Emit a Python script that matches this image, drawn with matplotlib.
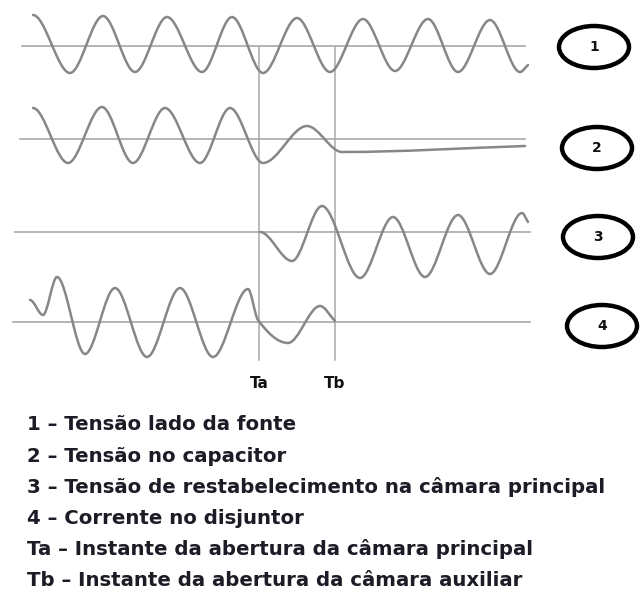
import matplotlib
matplotlib.use("Agg")
import matplotlib.pyplot as plt
from matplotlib.path import Path
from matplotlib.patches import PathPatch, Ellipse

# ---------------- data (time in ms-like units, amplitude in arbitrary units) -------------
# 1 - source-side voltage
t1 = [33, 70, 103, 135, 167, 202, 232, 263, 297, 330, 363, 395, 428, 458, 490, 520, 528]
v1 = [31, -27, 30, -26, 29, -26, 29, -27, 28, -26, 27, -25, 27, -26, 26, -26, -19]
# 2 - capacitor voltage
t2 = [33, 68, 102, 133, 165, 200, 230, 263, 307, 342, 525]
v2 = [31, -24, 32, -24, 31, -24, 31, -24, 13, -13, -7]
# 3 - recovery voltage across main chamber
t3 = [260, 292, 322, 360, 393, 425, 458, 490, 522, 528]
v3 = [0, -29, 26, -46, 15, -45, 17, -42, 19, 10]
# 4 - breaker current
t4 = [30, 43, 57, 85, 115, 147, 180, 213, 248, 258, 288, 320, 335]
i4 = [22, 7, 45, -32, 34, -35, 34, -35, 33, 2, -21, 16, 1]

series_t = [t1, t2, t3, t4]
series_v = [v1, v2, v3, i4]
series_ids = ["1", "2", "3", "4"]

event_times = [259, 335]
event_labels = ["Ta", "Tb"]

legend_lines = [
    "1 \u2013 Tensão lado da fonte",
    "2 \u2013 Tensão no capacitor",
    "3 \u2013 Tensão de restabelecimento na câmara principal",
    "4 \u2013 Corrente no disjuntor",
    "Ta \u2013 Instante da abertura da câmara principal",
    "Tb \u2013 Instante da abertura da câmara auxiliar",
]

# ---------------- layout / style -------------
W, H = 643, 592
baselines = [46, 139, 232, 322]
axis_spans = [(22, 525), (20, 525), (15, 530), (13, 530)]
circle_centers = [(594, 47), (597, 148), (598, 237), (602, 326)]
wave_color = "#878787"
axis_color = "#a8a8a8"
text_color = "#1c1c26"


def smooth_path(t, v):
    n = len(t)
    slopes = []
    for i in range(n):
        if i == 0:
            m = 0.0
        elif i == n - 1:
            m = (v[i] - v[i - 1]) / (t[i] - t[i - 1])
        else:
            if (v[i] - v[i - 1]) * (v[i + 1] - v[i]) <= 0:
                m = 0.0
            else:
                m = (v[i + 1] - v[i - 1]) / (t[i + 1] - t[i - 1])
        slopes.append(m)
    verts = [(t[0], v[0])]
    codes = [Path.MOVETO]
    for i in range(n - 1):
        dx = (t[i + 1] - t[i]) / 3.0
        verts += [(t[i] + dx, v[i] + slopes[i] * dx),
                  (t[i + 1] - dx, v[i + 1] - slopes[i + 1] * dx),
                  (t[i + 1], v[i + 1])]
        codes += [Path.CURVE4] * 3
    return Path(verts, codes)


fig = plt.figure(figsize=(W / 100, H / 100), dpi=100)
fig.patch.set_facecolor("white")

# overlay axes in pixel coordinates
ov = fig.add_axes([0, 0, 1, 1])
ov.set_xlim(0, W)
ov.set_ylim(H, 0)
ov.axis("off")

# event lines
for tx in event_times:
    ov.plot([tx, tx], [47, 360], color=axis_color, lw=1.1, zorder=1)

# waveforms
half = 60
for k in range(4):
    b = baselines[k]
    ax = fig.add_axes([0, (H - (b + half)) / H, 1, 2 * half / H])
    ax.set_xlim(0, W)
    ax.set_ylim(-half, half)
    ax.axis("off")
    ax.patch.set_alpha(0)
    x0, x1 = axis_spans[k]
    ax.plot([x0, x1], [0, 0], color=axis_color, lw=1.2, zorder=1)
    p = smooth_path(series_t[k], series_v[k])
    ax.add_patch(PathPatch(p, facecolor="none", edgecolor=wave_color, lw=1.8,
                           capstyle="round", joinstyle="round", zorder=2))

# numbered ellipses
for (cx, cy), lab in zip(circle_centers, series_ids):
    ov.add_patch(Ellipse((cx, cy), 70, 42, facecolor="white", edgecolor="black", lw=3.2, zorder=5))
    ov.text(cx, cy, lab, ha="center", va="center", fontsize=10, fontweight="bold",
            color="#111111", zorder=6, family="DejaVu Sans")

# event labels
for tx, lab in zip(event_times, event_labels):
    ov.text(tx, 384, lab, ha="center", va="center", fontsize=11, fontweight="bold",
            color="#111111", family="DejaVu Sans")

# legend text
y0 = 425
for j, line in enumerate(legend_lines):
    ov.text(27, y0 + j * 31.0, line, ha="left", va="center", fontsize=14.2,
            fontweight="bold", color=text_color, family="DejaVu Sans")

fig.savefig("out.png", dpi=100, facecolor="white")
